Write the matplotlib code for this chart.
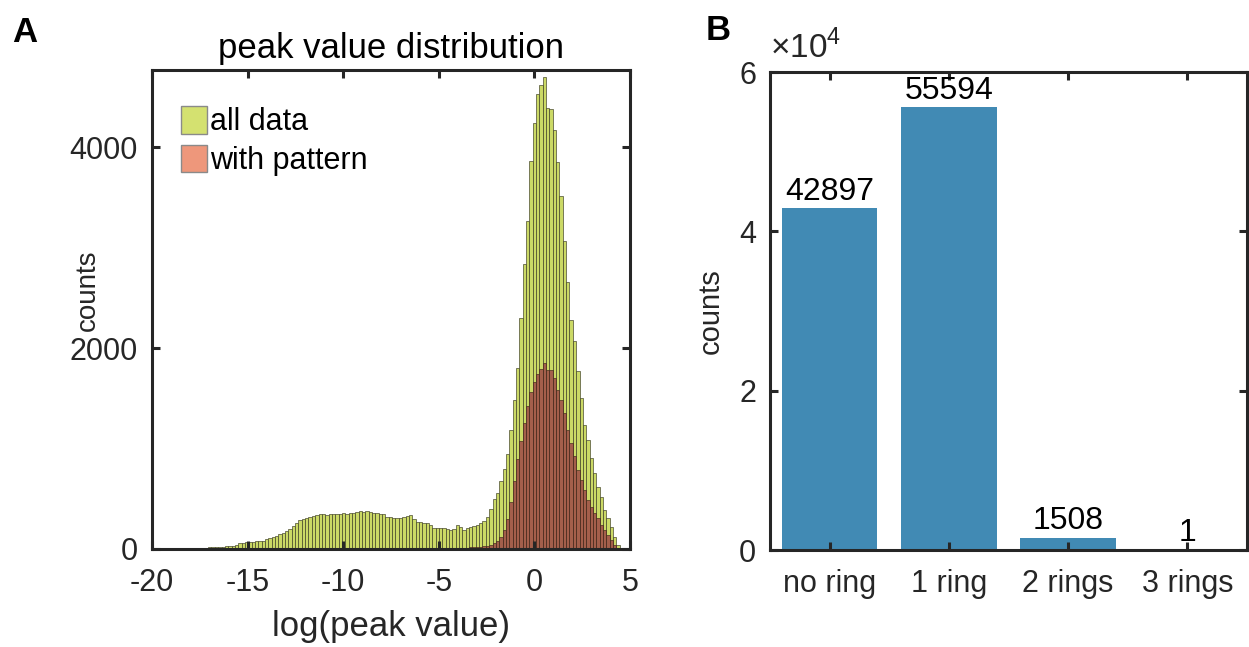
import numpy as np
import matplotlib
matplotlib.use('Agg')
import matplotlib.pyplot as plt
from matplotlib.patches import Patch

plt.rcParams['font.family'] = ['Liberation Sans', 'DejaVu Sans']
plt.rcParams['mathtext.fontset'] = 'custom'
plt.rcParams['mathtext.rm'] = 'Liberation Sans'
plt.rcParams['axes.unicode_minus'] = False

# ---- panel A: histogram of log(peak value) ----
bin_start = -20.04
bin_w = 0.175

all_counts = [
    2, 2, 3, 3, 4, 5, 5, 6, 7, 8,
    9, 10, 11, 12, 12, 13, 14, 15, 17, 18,
    20, 22, 25, 28, 32, 37, 55, 60, 66, 72,
    74, 76, 78, 82, 95, 105, 120, 132, 145, 160,
    178, 200, 230, 262, 285, 300, 310, 318, 325, 340,
    352, 348, 334, 345, 352, 350, 347, 355, 352, 356,
    360, 368, 375, 370, 380, 372, 360, 356, 350, 352,
    315, 320, 312, 305, 306, 318, 330, 335, 300, 272,
    268, 260, 262, 240, 212, 210, 212, 208, 195, 186,
    200, 243, 215, 193, 205, 215, 226, 240, 262, 282,
    320, 400, 500, 560, 680, 800, 950, 1180, 1480, 1800,
    2300, 2840, 3265, 3863, 4246, 4535, 4618, 4705, 4396, 4379,
    4170, 3857, 3514, 3065, 2660, 2284, 2068, 1769, 1503, 1237,
    1087, 905, 755, 621, 522, 389, 306, 223, 123, 40,
    10, 3,
]

pattern_counts = [0] * 84 + [
    1, 2, 2, 3, 4, 5, 6, 8, 10, 12, 14, 16, 18, 20,
    22, 26, 32, 42, 57, 75, 120, 190, 300, 470, 680, 900,
    1080, 1250, 1420, 1560, 1660, 1740, 1790, 1850, 1786, 1779,
    1702, 1586, 1486, 1353, 1187, 1054, 921, 788, 688, 589,
    489, 422, 356, 306, 239, 189, 140, 90, 40, 10,
    2, 0,
]

# ---- panel B: ring counts ----
ring_labels = ['no ring', '1 ring', '2 rings', '3 rings']
ring_counts = [42897, 55594, 1508, 1]

dark = '#262626'

fig = plt.figure(figsize=(12.49, 6.47), dpi=100)

axA = fig.add_axes([0.1217, 0.1515, 0.3827, 0.7403])
left_edges = bin_start + bin_w * np.arange(len(all_counts))
axA.bar(left_edges, all_counts, width=bin_w, align='edge',
        color='#cbd966', edgecolor='#3a3a22', linewidth=0.45)
axA.bar(left_edges, pattern_counts, width=bin_w, align='edge',
        color='#a45f4b', edgecolor='#3e2419', linewidth=0.45)
axA.set_xlim(-20, 5)
axA.set_ylim(0, 4770)
axA.set_xticks([-20, -15, -10, -5, 0, 5])
axA.set_yticks([0, 2000, 4000])
axA.set_title('peak value distribution', fontsize=25, color='black', pad=9)
axA.set_xlabel('log(peak value)', fontsize=25, color=dark, labelpad=8)
axA.set_ylabel('counts', fontsize=20, color=dark)
axA.yaxis.set_label_coords(-0.108, 0.54)

handles = [Patch(facecolor='#d4e170', edgecolor='#8a8a8a', label='all data'),
           Patch(facecolor='#ee977b', edgecolor='#8a8a8a', label='with pattern')]
axA.legend(handles=handles, loc='upper left', bbox_to_anchor=(0.035, 0.95),
           frameon=False, fontsize=22, handlelength=0.85, handleheight=1.0,
           handletextpad=0.1, labelspacing=0.25, borderaxespad=0.0)

axB = fig.add_axes([0.6165, 0.1499, 0.3819, 0.7388])
xpos = np.arange(1, len(ring_counts) + 1)
axB.bar(xpos, ring_counts, width=0.8, color='#418ab4')
for x, c in zip(xpos, ring_counts):
    axB.text(x, c + 200, str(c), ha='center', va='bottom', fontsize=23, color='black')
axB.set_xlim(0.5, 4.5)
axB.set_ylim(0, 60000)
axB.set_xticks(xpos)
axB.set_xticklabels(ring_labels)
axB.set_yticks([0, 20000, 40000, 60000])
axB.set_yticklabels(['0', '2', '4', '6'])
axB.set_ylabel('counts', fontsize=21, color=dark)
axB.yaxis.set_label_coords(-0.094, 0.5)
axB.text(0.0, 1.015, r'$\times10^{4}$', transform=axB.transAxes, fontsize=24,
         color=dark, ha='left', va='bottom')

for ax in (axA, axB):
    for s in ax.spines.values():
        s.set_linewidth(2.2)
        s.set_color(dark)
    ax.tick_params(direction='in', length=6, width=2.2, labelsize=22,
                   colors=dark, top=True, right=True)
    ax.tick_params(axis='x', pad=14)
    ax.tick_params(axis='y', pad=10)

fig.text(0.010, 0.935, 'A', fontsize=25, fontweight='bold')
fig.text(0.565, 0.938, 'B', fontsize=25, fontweight='bold')

fig.savefig('out.png', dpi=100)
